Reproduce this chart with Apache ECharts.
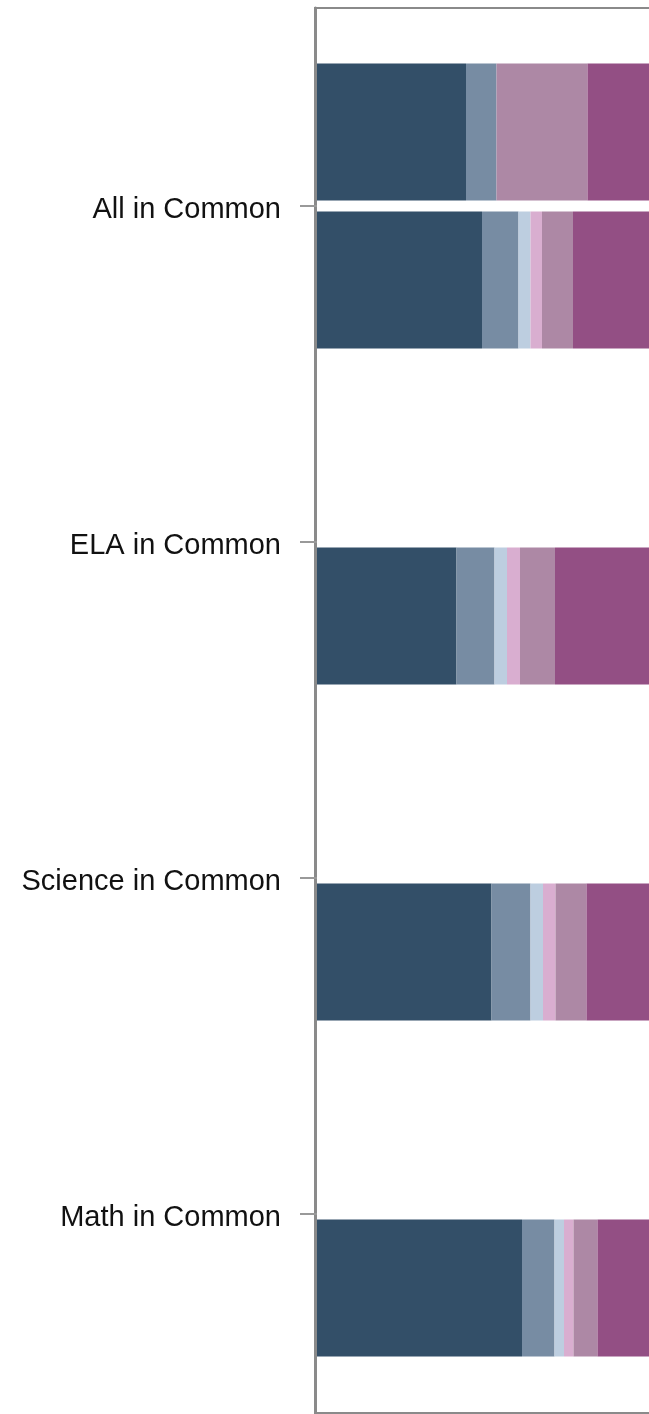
<!DOCTYPE html>
<html>
<head>
<meta charset="utf-8">
<title>Subjects in Common</title>
<script src="https://cdn.jsdelivr.net/npm/echarts@6/dist/echarts.min.js"></script>
<style>
  html, body { margin: 0; padding: 0; background: #ffffff; }
  #chart { width: 649px; height: 1414px; }
</style>
</head>
<body>
<div id="chart"></div>
<script>
// Category labels, top to bottom
const categories = ['All in Common', 'ELA in Common', 'Science in Common', 'Math in Common'];

// Segment names and colours (left to right in each stacked bar)
const segmentNames = ['Group 1', 'Group 2', 'Group 3', 'Group 4', 'Group 5', 'Group 6'];
const segmentColors = ['#334f68', '#778ca3', '#bdcee0', '#d9aed0', '#ad88a5', '#934f84'];

// Upper bar (only present for the first category), shares in percent
const upperG1 = [29.8, null, null, null];
const upperG2 = [6.1, null, null, null];
const upperG3 = [0, null, null, null];
const upperG4 = [0, null, null, null];
const upperG5 = [18.2, null, null, null];
const upperG6 = [45.9, null, null, null];

// Lower bar for every category, shares in percent
const lowerG1 = [33.0, 27.9, 34.9, 41.0];
const lowerG2 = [7.3, 7.6, 7.8, 6.5];
const lowerG3 = [2.4, 2.5, 2.5, 1.9];
const lowerG4 = [2.3, 2.6, 2.5, 1.9];
const lowerG5 = [6.2, 7.0, 6.2, 4.8];
const lowerG6 = [48.8, 52.4, 46.1, 43.9];

const upperData = [upperG1, upperG2, upperG3, upperG4, upperG5, upperG6];
const lowerData = [lowerG1, lowerG2, lowerG3, lowerG4, lowerG5, lowerG6];

const chart = echarts.init(document.getElementById('chart'), null, { renderer: 'canvas' });

function makeSeries(dataSets, stackName) {
  return dataSets.map((d, i) => ({
    name: segmentNames[i],
    type: 'bar',
    stack: stackName,
    xAxisIndex: 1,
    yAxisIndex: 1,
    data: d,
    barWidth: 137,
    barGap: '8%',
    itemStyle: { color: segmentColors[i] },
    emphasis: { disabled: true },
    silent: true
  }));
}

const option = {
  backgroundColor: '#ffffff',
  animation: false,
  grid: [
    {
      // outer frame
      left: 315, top: 8, width: 500, height: 1405,
      show: true, borderColor: '#8a8a8a', borderWidth: 2,
      backgroundColor: 'transparent',
      outerBoundsMode: 'none', containLabel: false
    },
    {
      // plotting area for the bars
      left: 317, top: 38, width: 500, height: 1344,
      outerBoundsMode: 'none', containLabel: false
    }
  ],
  xAxis: [
    { type: 'value', gridIndex: 0, show: false, min: 0, max: 100 },
    { type: 'value', gridIndex: 1, show: false, min: 0, max: 100 }
  ],
  yAxis: [
    {
      type: 'value', gridIndex: 0, min: 0, max: 1,
      axisLine: { show: true, lineStyle: { color: '#8a8a8a', width: 3 } },
      axisTick: { show: false }, axisLabel: { show: false }, splitLine: { show: false }
    },
    {
      type: 'category', gridIndex: 1, data: categories, inverse: true,
      axisLine: { show: false },
      axisTick: { show: true, alignWithLabel: true, length: 17, lineStyle: { color: '#999999', width: 2 } },
      axisLabel: {
        margin: 36, color: '#111111', fontSize: 29,
        fontFamily: '"Liberation Sans", Arial, sans-serif',
        interval: 0,
        formatter: (value) => '{t|' + value + '}',
        rich: {
          t: {
            color: '#111111', fontSize: 29,
            fontFamily: '"Liberation Sans", Arial, sans-serif',
            padding: [8, 0, 0, 0]
          }
        }
      },
      splitLine: { show: false }
    }
  ],
  series: makeSeries(upperData, 'upper').concat(makeSeries(lowerData, 'lower'))
};

chart.setOption(option);
</script>
</body>
</html>
